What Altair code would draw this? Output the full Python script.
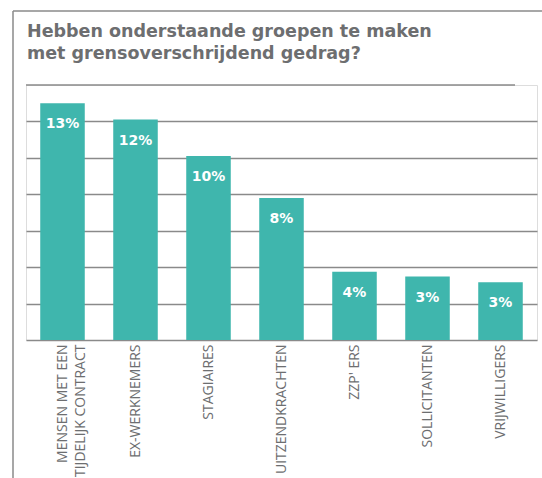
import altair as alt
import pandas as pd

categories = [
    "MENSEN MET EEN|TIJDELIJK CONTRACT",
    "EX-WERKNEMERS",
    "STAGIAIRES",
    "UITZENDKRACHTEN",
    "ZZP' ERS",
    "SOLLICITANTEN",
    "VRIJWILLIGERS",
]
values = [13.0, 12.1, 10.1, 7.8, 3.75, 3.48, 3.17]
labels = ["13%", "12%", "10%", "8%", "4%", "3%", "3%"]
grid_values = [0, 2, 4, 6, 8, 10, 12]
title_lines = ["Hebben onderstaande groepen te maken", "met grensoverschrijdend gedrag?"]

df = pd.DataFrame({"cat": categories, "val": values, "lab": labels})

BAR = "#3fb6ad"
GRAY = "#6d6e70"
LINE = "#8a8a8a"

x_enc = alt.X(
    "cat:N",
    sort=categories,
    scale=alt.Scale(paddingInner=0.39, paddingOuter=0.195),
    axis=alt.Axis(
        title=None,
        labelAngle=-90,
        labelAlign="right",
        labelBaseline="middle",
        labelExpr="split(datum.value, '|')",
        labelLineHeight=18,
        labelFont="Open Sans",
        labelFontSize=14,
        labelColor=GRAY,
        labelPadding=4,
        ticks=False,
        domain=False,
        grid=False,
    ),
)
y_scale = alt.Scale(domain=[0, 14], nice=False)

base = alt.Chart(df)

bars = base.mark_bar(color=BAR).encode(
    x=x_enc,
    y=alt.Y(
        "val:Q",
        scale=y_scale,
        axis=alt.Axis(
            title=None,
            values=grid_values,
            labels=False,
            ticks=False,
            domain=False,
            grid=True,
            gridColor=LINE,
            gridWidth=1.4,
            gridOpacity=1,
        ),
    ),
)

texts = base.mark_text(
    color="white",
    font="DejaVu Sans",
    fontWeight="bold",
    fontSize=14,
    baseline="alphabetic",
    dy=25,
).encode(x=alt.X("cat:N", sort=categories), y=alt.Y("val:Q", scale=y_scale), text="lab:N")

one = pd.DataFrame({"k": [0]})
title1 = alt.Chart(pd.DataFrame({"t": [title_lines[0]]})).mark_text(
    font="DejaVu Sans", fontWeight="bold", fontSize=17.5, color=GRAY,
    align="left", baseline="alphabetic",
).encode(x=alt.value(1), y=alt.value(-48), text="t:N")
title2 = alt.Chart(pd.DataFrame({"t": [title_lines[1]]})).mark_text(
    font="DejaVu Sans", fontWeight="bold", fontSize=17.5, color=GRAY,
    align="left", baseline="alphabetic",
).encode(x=alt.value(1), y=alt.value(-26), text="t:N")

sep = alt.Chart(one).mark_rule(color=LINE, strokeWidth=1.3).encode(
    x=alt.value(0), x2=alt.value(489), y=alt.value(0)
)
frame_top = alt.Chart(one).mark_rule(color=LINE, strokeWidth=1.5).encode(
    x=alt.value(-13), x2=alt.value(520), y=alt.value(-74)
)
frame_left = alt.Chart(one).mark_rule(color=LINE, strokeWidth=1.5).encode(
    x=alt.value(-13), y=alt.value(-74), y2=alt.value(400)
)

chart = (
    alt.layer(bars, texts, title1, title2, sep, frame_top, frame_left)
    .properties(
        width=511,
        height=255,
        autosize=alt.AutoSizeParams(type="none"),
        padding={"left": 26, "top": 85, "right": 5, "bottom": 138},
    )
    .configure_view(stroke=None)
    .configure(background="white")
)

chart.save("out.html", embed_options={"renderer": "svg", "actions": False})
